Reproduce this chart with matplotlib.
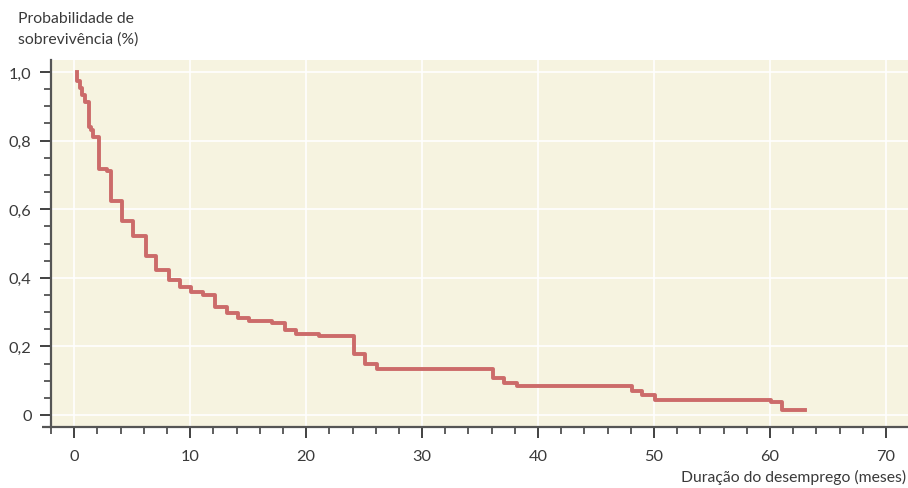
import matplotlib
matplotlib.use("Agg")
import matplotlib.pyplot as plt
from matplotlib.ticker import MultipleLocator, FixedLocator, FixedFormatter

# Kaplan-Meier estimate: time of each drop (months) and survival after it
times = [0.2, 0.2, 0.5, 0.7, 0.9, 1.3, 1.45, 1.6, 2.15, 2.8, 3.15, 4.1, 5.05,
         6.15, 7.05, 8.2, 9.15, 10.1, 11.15, 12.15, 13.2, 14.15, 15.05, 17.1,
         18.15, 19.15, 21.1, 24.1, 25.05, 26.15, 36.1, 37.05, 38.15, 48.1,
         49.0, 50.1, 60.1, 61.05, 63.0]
surv = [1.0, 0.973, 0.953, 0.933, 0.912, 0.84, 0.832, 0.81, 0.717, 0.712,
        0.625, 0.567, 0.523, 0.463, 0.424, 0.394, 0.374, 0.36, 0.351, 0.316,
        0.297, 0.282, 0.273, 0.267, 0.249, 0.237, 0.231, 0.178, 0.149, 0.133,
        0.109, 0.094, 0.085, 0.07, 0.059, 0.045, 0.037, 0.015, 0.015]

y_ticks = [0, 0.2, 0.4, 0.6, 0.8, 1.0]
y_labels = ["0", "0,2", "0,4", "0,6", "0,8", "1,0"]
x_ticks = [0, 10, 20, 30, 40, 50, 60, 70]

plt.rcParams["font.family"] = ["Lato", "DejaVu Sans"]
txt = "#3a3a3a"
axis_col = "#555555"

fig = plt.figure(figsize=(9.08, 4.89), dpi=100)
ax = fig.add_axes([51 / 908, 1 - 428 / 489, 1 - 51 / 908, (428 - 61) / 489])
ax.set_facecolor("#F6F3E0")

ax.step(times, surv, where="post", color="#CC6B6A", lw=2.8, zorder=3)

ax.set_xlim(-2, 71.9)
ax.set_ylim(-0.035, 1.035)

ax.xaxis.set_major_locator(FixedLocator(x_ticks))
ax.xaxis.set_minor_locator(MultipleLocator(2))
ax.yaxis.set_major_locator(FixedLocator(y_ticks))
ax.yaxis.set_major_formatter(FixedFormatter(y_labels))
ax.yaxis.set_minor_locator(MultipleLocator(0.05))

ax.grid(True, which="major", color="white", lw=1.2, zorder=1)
ax.set_axisbelow(True)

for s in ["top", "right"]:
    ax.spines[s].set_visible(False)
for s in ["left", "bottom"]:
    ax.spines[s].set_color(axis_col)
    ax.spines[s].set_linewidth(1.6)

ax.tick_params(which="major", length=8, width=1.3, color="#333333",
               labelsize=11.8, labelcolor=txt, pad=6)
ax.tick_params(which="minor", length=5, width=1.1, color="#333333")
ax.tick_params(axis="x", which="major", pad=8)

# bottom axis line runs a bit past the left axis
ax.plot([-9 / 857, 0], [0, 0], transform=ax.transAxes, color=axis_col,
        lw=1.6, clip_on=False, solid_capstyle="butt")

fig.text(18 / 908, 1 - 12 / 489, "Probabilidade de\nsobrevivência (%)",
         ha="left", va="top", fontsize=11.3, color=txt, linespacing=1.6)
fig.text(906 / 908, 1 - 482 / 489, "Duração do desemprego (meses)",
         ha="right", va="baseline", fontsize=11.3, color=txt)

fig.savefig("out.png", dpi=100)
